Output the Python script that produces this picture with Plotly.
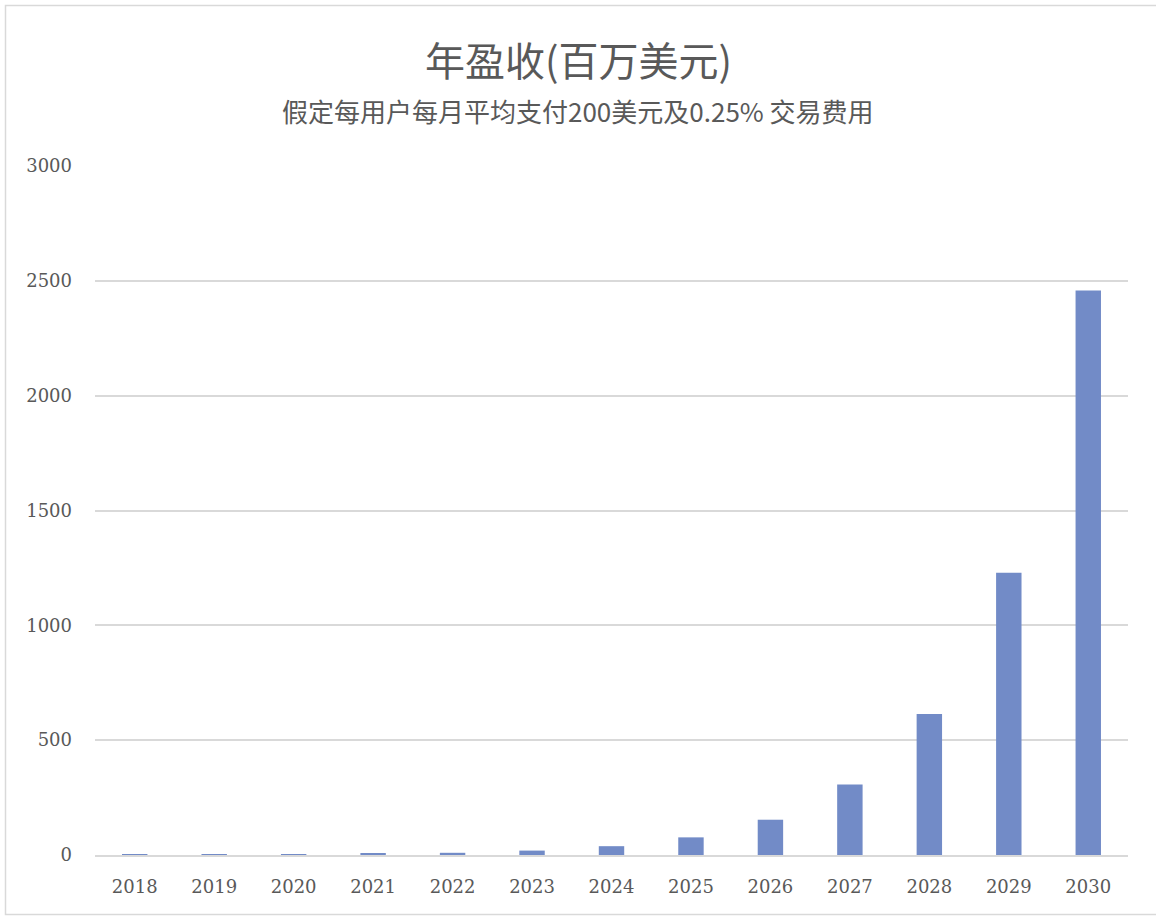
import plotly.graph_objects as go

years = ["2018", "2019", "2020", "2021", "2022", "2023", "2024", "2025", "2026", "2027", "2028", "2029", "2030"]
revenue = [0.6, 1.2, 2.4, 4.8, 9.6, 19.2, 38.4, 76.8, 153.6, 307.2, 614.4, 1228.8, 2457.6]
y_ticks = [0, 500, 1000, 1500, 2000, 2500, 3000]

title_text = "年盈收(百万美元)"
subtitle_text = "假定每用户每月平均支付200美元及0.25% 交易费用"

W, H = 1156, 916
L, R, T, B = 95, 28, 166, 61
pw, ph = W - L - R, H - T - B

def px_to_paper_x(px):
    return (px - L) / pw

def px_to_paper_y(py):
    return (H - B - py) / ph

serif = "DejaVu Serif, Liberation Serif, serif"

fig = go.Figure()
fig.add_trace(go.Bar(
    x=years, y=revenue,
    marker=dict(color="#728BC7", line=dict(width=0)),
    width=0.32,
))

fig.update_layout(
    width=W, height=H,
    margin=dict(l=L, r=R, t=T, b=B),
    paper_bgcolor="white", plot_bgcolor="white",
    showlegend=False,
    font=dict(family=serif, color="#595959"),
    annotations=[
        dict(text=title_text, x=0.5, xref="paper", y=px_to_paper_y(59), yref="paper",
             xanchor="center", yanchor="middle", showarrow=False,
             xshift=(W / 2 - (L + pw / 2)),
             font=dict(family="Noto Sans CJK SC", size=40, color="#595959")),
        dict(text=subtitle_text, x=0.5, xref="paper", y=px_to_paper_y(111), yref="paper",
             xanchor="center", yanchor="middle", showarrow=False,
             xshift=(W / 2 - (L + pw / 2)),
             font=dict(family="Noto Sans CJK SC", size=26, color="#595959")),
    ],
    shapes=[
        dict(type="rect", xref="paper", yref="paper",
             x0=px_to_paper_x(5.5), x1=px_to_paper_x(1170),
             y0=px_to_paper_y(914.5), y1=px_to_paper_y(5.5),
             line=dict(color="#D9D9D9", width=1.5), fillcolor="rgba(0,0,0,0)", layer="below"),
    ],
)

fig.update_xaxes(
    type="category",
    showgrid=False,
    showline=True, linecolor="#D9D9D9", linewidth=2,
    ticks="", tickfont=dict(size=18, color="#595959", family=serif),
    ticklabelstandoff=14,
)
fig.update_yaxes(
    range=[0, 3000],
    tickvals=y_ticks,
    ticktext=[str(v) for v in y_ticks],
    showgrid=True, gridcolor="#D9D9D9", gridwidth=1.5,
    zeroline=False, showline=False, ticks="",
    tickfont=dict(size=18, color="#595959", family=serif),
    ticklabelstandoff=22,
)

fig.write_html("out.html", config={"displayModeBar": False},
               post_script="document.body.style.margin='0';document.body.style.padding='0';")
